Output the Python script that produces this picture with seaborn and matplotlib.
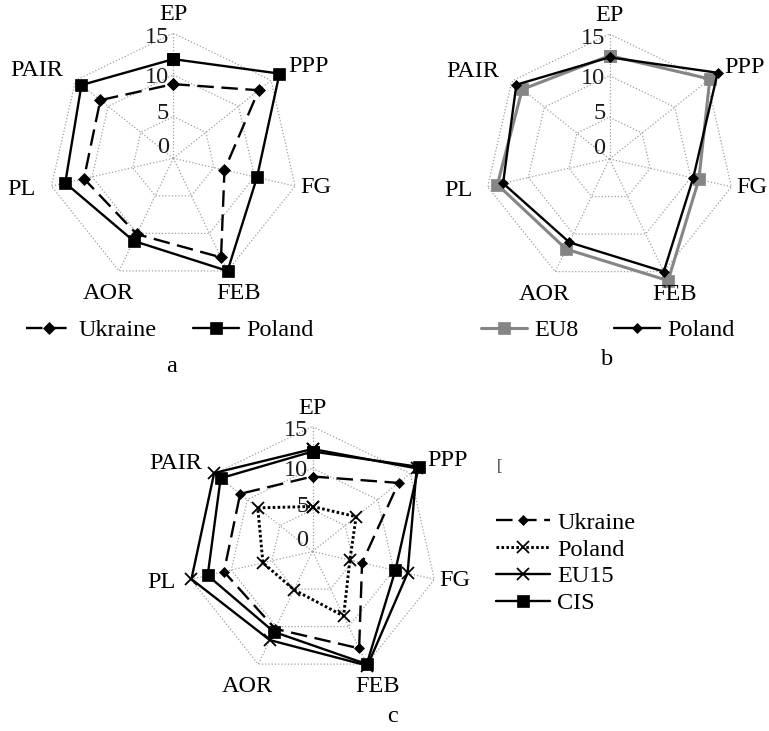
import numpy as np
import pandas as pd
import matplotlib
matplotlib.use("Agg")
import matplotlib.pyplot as plt
import seaborn as sns

# Indicators shown on every radar, clockwise from the top
categories = ["EP", "PPP", "FG", "FEB", "AOR", "PL", "PAIR"]
ring_values = [5, 10, 15]
tick_values = [0, 5, 10, 15]
tick_labels = ["0", "5", "10", "15"]

# Panel a
a_ukraine = [8.9, 13.1, 6.3, 13.2, 10.1, 11.0, 11.2]
a_poland = [11.9, 16.3, 10.3, 15.0, 11.0, 13.3, 14.1]

# Panel b
b_eu8 = [12.4, 15.4, 11.0, 16.2, 12.0, 13.8, 13.4]
b_poland = [12.2, 16.6, 10.3, 15.0, 11.1, 13.1, 14.3]

# Panel c
c_ukraine = [9.0, 13.2, 6.1, 12.9, 10.3, 10.9, 11.1]
c_poland = [5.4, 6.7, 4.6, 8.6, 5.1, 6.1, 8.4]
c_eu15 = [12.3, 16.0, 11.7, 15.2, 11.8, 14.9, 15.1]
c_cis = [12.0, 16.3, 10.2, 15.0, 10.7, 12.9, 14.1]

sns.set_theme(style="white")
plt.rcParams["font.family"] = ["Liberation Serif", "DejaVu Serif"]
plt.rcParams["text.color"] = "black"

W, H = 769, 731
fig = plt.figure(figsize=(W / 100, H / 100), dpi=100)
fig.patch.set_facecolor("white")

n = len(categories)
angles = [2 * np.pi * i / n for i in range(n)]
theta_closed = angles + [2 * np.pi]

GRID = dict(color="#a0a0a0", lw=0.9, ls=(0, (1, 1.6)))
FS = 17.5

# label placement: (radius in data units, horizontal alignment)
label_place = {
    "EP": (17.2, "center"), "PPP": (17.6, "left"), "FG": (15.6, "left"),
    "FEB": (18.0, "center"), "AOR": (18.0, "center"),
    "PL": (16.9, "right"), "PAIR": (16.9, "right"),
}
tick_dy_px = [11, 3.5, -2.5, -4]


def make_radar(cx, cy, R=125):
    ax = fig.add_axes([(cx - R) / W, (H - cy - R) / H, 2 * R / W, 2 * R / H],
                      projection="polar")
    ax.set_theta_zero_location("N")
    ax.set_theta_direction(-1)
    ax.axis("off")
    for v in ring_values:
        ax.plot(theta_closed, [v] * (n + 1), **GRID)
    for t in angles:
        ax.plot([t, t], [0, 15], **GRID)
    for cat, t in zip(categories, angles):
        r, ha = label_place[cat]
        ax.text(t, r, cat, ha=ha, va="center", fontsize=FS, color="black",
                clip_on=False)
    for v, lbl, dy in zip(tick_values, tick_labels, tick_dy_px):
        ax.annotate(lbl, xy=(0, v), xytext=(-3, dy * 0.72),
                    textcoords="offset points", ha="right", va="center",
                    fontsize=FS, color="#1a1a1a", annotation_clip=False)
    return ax


def radar_series(ax, values, **kw):
    df = pd.DataFrame({"theta": theta_closed, "value": list(values) + [values[0]]})
    sns.lineplot(data=df, x="theta", y="value", sort=False, estimator=None,
                 ax=ax, legend=False, clip_on=False, **kw)
    return ax.lines[-1]


dash = (0, (7, 3.2))
dot = (0, (0.9, 0.8))
LW = 1.7

# ---- panel a ----
ax_a = make_radar(173.3, 158.3)
la1 = radar_series(ax_a, a_ukraine, color="black", lw=LW, linestyle=dash,
                   marker="D", ms=6.5, mec="black", mfc="black", mew=0.5)
la2 = radar_series(ax_a, a_poland, color="black", lw=LW,
                   marker="s", ms=9, mec="black", mfc="black", mew=0.5)
ax_a.set_ylim(0, 15)

# ---- panel b ----
ax_b = make_radar(609.5, 159)
lb1 = radar_series(ax_b, b_eu8, color="#858585", lw=2.2,
                   marker="s", ms=8.5, mec="#858585", mfc="#858585", mew=0.5)
lb2 = radar_series(ax_b, b_poland, color="black", lw=LW,
                   marker="D", ms=5, mec="black", mfc="black", mew=0.5)
ax_b.set_ylim(0, 15)

# ---- panel c ----
ax_c = make_radar(312.5, 551.5)
lc1 = radar_series(ax_c, c_ukraine, color="black", lw=LW, linestyle=dash,
                   marker="D", ms=5.5, mec="black", mfc="black", mew=0.5)
lc2 = radar_series(ax_c, c_poland, color="black", lw=2.1, linestyle=dot,
                   marker="x", ms=8.5, mec="black", mew=1.3)
lc3 = radar_series(ax_c, c_eu15, color="black", lw=LW,
                   marker="x", ms=9, mec="black", mew=1.3)
lc4 = radar_series(ax_c, c_cis, color="black", lw=LW,
                   marker="s", ms=8, mec="black", mfc="black", mew=0.5)
ax_c.set_ylim(0, 15)

leg_kw = dict(frameon=False, fontsize=FS, handletextpad=0.29, borderpad=0,
              borderaxespad=0, numpoints=1, loc="center",
              bbox_transform=fig.transFigure)
fig.legend([la1, la2], ["Ukraine", "Poland"], ncol=2, handlelength=1.89,
           columnspacing=1.48, bbox_to_anchor=(169.5 / W, 1 - 330 / H), **leg_kw)
fig.legend([lb1, lb2], ["EU8", "Poland"], ncol=2, handlelength=1.89,
           columnspacing=1.48, bbox_to_anchor=(608 / W, 1 - 330 / H), **leg_kw)
fig.legend([lc1, lc2, lc3, lc4], ["Ukraine", "Poland", "EU15", "CIS"], ncol=1,
           handlelength=2.22, labelspacing=0.2,
           bbox_to_anchor=(566 / W, 1 - 563 / H), **leg_kw)

# panel captions
for txt, x, y in [("a", 172, 367), ("b", 607, 359), ("c", 392, 717)]:
    fig.text(x / W, 1 - y / H, txt, ha="center", va="center", fontsize=FS)
fig.text(500 / W, 1 - 467 / H, "[", ha="center", va="center", fontsize=12,
         color="#333333")

fig.savefig("out.png", dpi=100, facecolor="white")
